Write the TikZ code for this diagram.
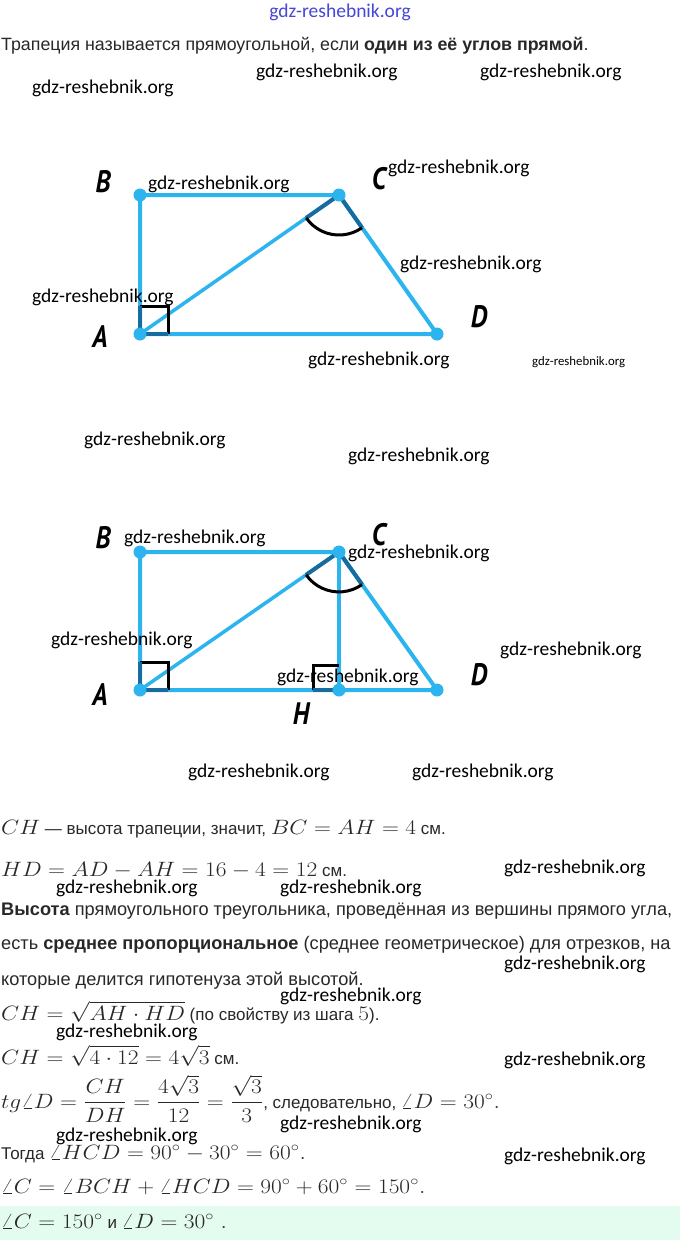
\documentclass[tikz,border=0pt]{standalone}
\usepackage{amsmath}
\usepackage{graphicx}
\usepackage[no-math]{fontspec}
\setmainfont{Liberation Sans}
\newfontfamily\wmfont{Carlito}
\newfontfamily\lblfont[FakeStretch=0.85]{PT Sans}
\usetikzlibrary{calc}
\definecolor{figblue}{RGB}{44,180,238}
\definecolor{figdark}{RGB}{22,108,158}
\definecolor{wmblue}{RGB}{70,70,215}
\definecolor{mint}{RGB}{228,252,240}
\definecolor{body}{RGB}{40,40,40}
\newcommand\Mth[1]{{\fontsize{20.74}{25}\selectfont\scalebox{1.13}[1]{$#1$}}}
\newcommand\Tx[1]{{\fontsize{17}{20}\selectfont #1}}
\tikzset{
  wmk/.style={anchor=west, inner sep=0pt, font=\wmfont\fontsize{19.5}{22}\selectfont},
  wmsmall/.style={anchor=west, inner sep=0pt, font=\wmfont\fontsize{12.8}{15}\selectfont},
  txt/.style={anchor=base west, inner sep=0pt, text=body, font=\fontsize{18.2}{21}\selectfont},
  lab/.style={inner sep=0pt, font=\lblfont\bfseries\itshape\fontsize{31}{32}\selectfont},
  figline/.style={draw=figblue, line width=4pt},
  diagline/.style={draw=figblue, line width=3.5pt},
  darkline/.style={draw=figdark, line width=4pt},
  blk/.style={draw=black, line width=3pt},
  dot/.style={circle, fill=figblue, inner sep=0pt, minimum size=13pt},
}
\begin{document}
\begin{tikzpicture}[x=1pt,y=-1pt]
\useasboundingbox (0,0) rectangle (680,1240);
\fill[white] (0,0) rectangle (680,1240);
\fill[mint] (0,1206) rectangle (680,1240);

\node[font=\wmfont\fontsize{19.5}{22}\selectfont, text=wmblue, inner sep=0pt] (top) at (340,12) {gdz-reshebnik.org};
\node[txt, font=\fontsize{17.8}{21}\selectfont] (t1) at (1,50) {Трапеция называется прямоугольной, если \textbf{один из её углов прямой}.};

\node[wmk] (w1) at (256,72) {gdz-reshebnik.org};
\node[wmk] (w2) at (480,72) {gdz-reshebnik.org};
\node[wmk] (w3) at (32,88) {gdz-reshebnik.org};

% ---------- figure 1 ----------
\coordinate (A1) at (140,334);
\coordinate (B1) at (140,195);
\coordinate (C1) at (339,195);
\coordinate (D1) at (437,334);
\coordinate (SA1) at ($(A1)+(0,-28)$);
\coordinate (SB1) at ($(A1)+(28,0)$);
\coordinate (SC1) at ($(A1)+(28,-28)$);
\coordinate (CA1) at ($(C1)!40pt!(A1)$);
\coordinate (CD1) at ($(C1)!40pt!(D1)$);
\draw[figline] (A1) -- (B1) -- (C1) -- (D1) -- cycle;
\draw[diagline] (A1) -- (C1);
\draw[blk] (SA1) -- (SC1) -- (SB1);
\draw[darkline] (A1) -- (SA1);
\draw[darkline] (A1) -- (SB1);
\draw[darkline] (C1) -- (CA1);
\draw[darkline] (C1) -- (CD1);
\draw[blk] (CA1) arc[start angle=214.9, end angle=305.2, radius=40pt];
\node[dot] (dA1) at (A1) {};
\node[dot] (dB1) at (B1) {};
\node[dot] (dC1) at (C1) {};
\node[dot] (dD1) at (D1) {};
\node[lab] (lA1) at (100,337) {A};
\node[lab] (lB1) at (103,182) {B};
\node[lab] (lC1) at (379,179) {C};
\node[lab] (lD1) at (479,317) {D};

\node[wmk] (w4) at (148,184) {gdz-reshebnik.org};
\node[wmk] (w5) at (388,168) {gdz-reshebnik.org};
\node[wmk] (w6) at (400,264) {gdz-reshebnik.org};
\node[wmk] (w7) at (32,297) {gdz-reshebnik.org};
\node[wmk] (w8) at (308,360) {gdz-reshebnik.org};
\node[wmsmall] (w9) at (532,362) {gdz-reshebnik.org};
\node[wmk] (w10) at (84,440) {gdz-reshebnik.org};
\node[wmk] (w11) at (348,456) {gdz-reshebnik.org};

% ---------- figure 2 ----------
\coordinate (A2) at (140,690);
\coordinate (B2) at (140,552);
\coordinate (C2) at (339,552);
\coordinate (D2) at (437,690);
\coordinate (H2) at (339,690);
\coordinate (SA2) at ($(A2)+(0,-28)$);
\coordinate (SB2) at ($(A2)+(28,0)$);
\coordinate (SC2) at ($(A2)+(28,-28)$);
\coordinate (HA2) at ($(H2)+(-26,0)$);
\coordinate (HB2) at ($(H2)+(-26,-25)$);
\coordinate (HC2) at ($(H2)+(0,-25)$);
\coordinate (CA2) at ($(C2)!40pt!(A2)$);
\coordinate (CD2) at ($(C2)!40pt!(D2)$);
\draw[figline] (A2) -- (B2) -- (C2) -- (D2) -- cycle;
\draw[diagline] (A2) -- (C2);
\draw[diagline] (C2) -- (H2);
\draw[blk] (SA2) -- (SC2) -- (SB2);
\draw[darkline] (A2) -- (SA2);
\draw[darkline] (A2) -- (SB2);
\draw[blk] (HA2) -- (HB2) -- (HC2);
\draw[darkline] (H2) -- (HA2);
\draw[darkline] (C2) -- (CA2);
\draw[darkline] (C2) -- (CD2);
\draw[blk] (CA2) arc[start angle=214.9, end angle=305.2, radius=40pt];
\node[dot] (dA2) at (A2) {};
\node[dot] (dB2) at (B2) {};
\node[dot] (dC2) at (C2) {};
\node[dot] (dD2) at (D2) {};
\node[dot] (dH2) at (H2) {};
\node[lab] (lA2) at (100,695) {A};
\node[lab] (lB2) at (103,538) {B};
\node[lab] (lC2) at (379,535) {C};
\node[lab] (lD2) at (479,675) {D};
\node[lab] (lH2) at (301,714) {H};

\node[wmk] (w12) at (124,538) {gdz-reshebnik.org};
\node[wmk] (w13) at (348,553) {gdz-reshebnik.org};
\node[wmk] (w14) at (51,640) {gdz-reshebnik.org};
\node[wmk] (w15) at (500,650) {gdz-reshebnik.org};
\node[wmk] (w16) at (277,677) {gdz-reshebnik.org};
\node[wmk] (w17) at (188,772) {gdz-reshebnik.org};
\node[wmk] (w18) at (412,772) {gdz-reshebnik.org};

% ---------- solution text ----------
\node[txt] (l1) at (1,834) {\Mth{CH}\Tx{ — высота трапеции, значит, }\Mth{BC = AH = 4}\Tx{ см.}};
\node[txt] (l2) at (1,876) {\Mth{HD = AD - AH = 16 - 4 = 12}\Tx{ см.}};
\node[txt] (l3) at (1,915) {\textbf{Высота} прямоугольного треугольника, проведённая из вершины прямого угла,};
\node[txt] (l4) at (1,949) {есть \textbf{среднее пропорциональное} (среднее геометрическое) для отрезков, на};
\node[txt] (l5) at (1,985) {которые делится гипотенуза этой высотой.};
\node[txt] (l6) at (1,1020) {\Mth{CH = \sqrt{AH\cdot HD}}\Tx{ (по свойству из шага }\Mth{5}\Tx{).}};
\node[txt] (l7) at (1,1064) {\Mth{CH = \sqrt{4\cdot 12} = 4\sqrt{3}}\Tx{ см.}};
\node[txt] (l8) at (1,1108) {\Mth{tg\angle D = \dfrac{CH}{DH} = \dfrac{4\sqrt{3}}{12} = \dfrac{\sqrt{3}}{3}}\Tx{, следовательно, }\Mth{\angle D = 30^\circ.}};
\node[txt] (l9) at (1,1159) {\Tx{Тогда }\Mth{\angle HCD = 90^\circ - 30^\circ = 60^\circ.}};
\node[txt] (l10) at (1,1193) {\Mth{\angle C = \angle BCH + \angle HCD = 90^\circ + 60^\circ = 150^\circ.}};
\node[txt] (l11) at (1,1228) {\Mth{\angle C = 150^\circ}\Tx{ и }\Mth{\angle D = 30^\circ}\Mth{\;.}};

\node[wmk] (w19) at (504,868) {gdz-reshebnik.org};
\node[wmk] (w20) at (56,888) {gdz-reshebnik.org};
\node[wmk] (w21) at (280,888) {gdz-reshebnik.org};
\node[wmk] (w22) at (504,964) {gdz-reshebnik.org};
\node[wmk] (w23) at (280,996) {gdz-reshebnik.org};
\node[wmk] (w24) at (56,1032) {gdz-reshebnik.org};
\node[wmk] (w25) at (504,1060) {gdz-reshebnik.org};
\node[wmk] (w26) at (280,1124) {gdz-reshebnik.org};
\node[wmk] (w27) at (56,1136) {gdz-reshebnik.org};
\node[wmk] (w28) at (504,1156) {gdz-reshebnik.org};
\end{tikzpicture}
\end{document}
